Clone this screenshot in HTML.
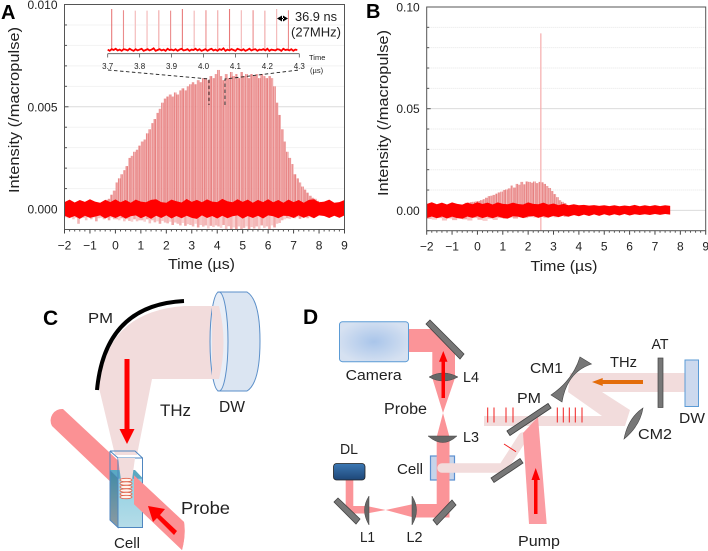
<!DOCTYPE html>
<html lang="en">
<head>
<meta charset="utf-8">
<title>THz intensity time traces and experimental schematics</title>
<style>
html,body{margin:0;padding:0;background:#fff}
svg{display:block}
text{font-family:"Liberation Sans","Noto Sans CJK JP",sans-serif;fill:#222}
</style>
</head>
<body>
<svg id="fig" xmlns="http://www.w3.org/2000/svg" width="708" height="551" viewBox="0 0 708 551">
<defs>
<radialGradient id="camGrad" cx="50%" cy="50%" r="55%"><stop offset="0" stop-color="#a9c5ea"/><stop offset="1" stop-color="#d6e1f1"/></radialGradient>
<linearGradient id="dlGrad" x1="0" y1="0" x2="0" y2="1"><stop offset="0" stop-color="#3c78b4"/><stop offset="1" stop-color="#1e4677"/></linearGradient>
<linearGradient id="cellFront" x1="0" y1="0" x2="0" y2="1"><stop offset="0" stop-color="#8fd0e2"/><stop offset="1" stop-color="#b5dce8"/></linearGradient>
<linearGradient id="cellSide" x1="0" y1="0" x2="0" y2="1"><stop offset="0" stop-color="#3f8ba8"/><stop offset="1" stop-color="#8d9aa0"/></linearGradient>
<clipPath id="probeFront"><rect x="134" y="440" width="80" height="111"/></clipPath>
</defs>

<g id="panelA"></g>
<g id="panelB"></g>

<text x="1" y="19" font-size="20" font-weight="bold" style="fill:#000">A</text>
<text x="366" y="18" font-size="20" font-weight="bold" style="fill:#000">B</text>

<!-- Panel C -->
<g>
<text x="43" y="325" font-size="21" font-weight="bold" style="fill:#000">C</text>
<text x="88" y="323" font-size="15" textLength="25" lengthAdjust="spacingAndGlyphs">PM</text>
<path d="M99 388 Q105 312 184 306 L220 306 Q227 342 220 379 L152 379 L137 455 L115 455 Z" fill="#f2dcdc"/>
<g>
<path d="M218 292 L247 292 Q260 300 260 341 Q260 383 247 391 L218 391 Z" fill="#dbe5f2" stroke="#5b8fc9" stroke-width="1"/>
<ellipse cx="219" cy="341.5" rx="9" ry="49.5" fill="#e8eef7" stroke="#5b8fc9" stroke-width="1"/>
</g>
<path d="M212 306 L219 306 Q228 342 219 379 L212 379 Z" fill="#f2dcdc"/>
<path d="M97 390 Q105 305 184 301" fill="none" stroke="#000" stroke-width="4"/>
<path d="M124.500 359 H129.500 V429 H134.500 L127 444 L119.500 429 H124.500 Z" fill="#f00"/>
<text x="160" y="416" font-size="16.500" textLength="31" lengthAdjust="spacingAndGlyphs">THz</text>
<text x="219" y="412" font-size="15.500" textLength="26" lengthAdjust="spacingAndGlyphs">DW</text>
<path d="M63 409 L184 522 Q186 535 182 550 L52 426 A11.500 11.500 0 0 1 63 409 Z" fill="#fb9194"/>
<g>
<path d="M110 470 L118 478 V527.500 L110 520 Z" fill="url(#cellSide)" stroke="#4f86c0" stroke-width="1"/>
<rect x="118" y="478" width="24.500" height="49.500" fill="url(#cellFront)" stroke="#4f86c0" stroke-width="1"/>
<path d="M110 470 H135 L142.500 478 H118 Z" fill="#5aa9c2"/>
<path d="M110 451 L118 458 H142.500 V478 M118 458 V478 M110 451 V470 M110 451 H135 L142.500 458" fill="none" stroke="#4f86c0" stroke-width="1"/>
</g>
<path d="M118 458 H135 L132 480 H121 Z" fill="#f2dcdc"/>
<g fill="#fff4ee" stroke="#e0604a" stroke-width="0.800">
<ellipse cx="126" cy="480" rx="6" ry="1.700"/><ellipse cx="126" cy="483.500" rx="6" ry="1.700"/><ellipse cx="126" cy="487" rx="6" ry="1.700"/><ellipse cx="126" cy="490.500" rx="6" ry="1.700"/><ellipse cx="126" cy="494" rx="6" ry="1.700"/><ellipse cx="126" cy="497" rx="6" ry="1.700"/>
</g>
<path d="M63 409 L184 522 Q186 535 182 550 L52 426 A11.500 11.500 0 0 1 63 409 Z" fill="#fb9194" clip-path="url(#probeFront)"/>
<path d="M174 535 L177 531 L160 515 L165 509 L148 506 L153 522 L157 518 Z" fill="#f00"/>
<text x="181" y="514" font-size="17.500" textLength="49" lengthAdjust="spacingAndGlyphs">Probe</text>
<text x="114" y="548" font-size="15" textLength="26" lengthAdjust="spacingAndGlyphs">Cell</text>
</g>

<!-- Panel D -->
<g>
<text x="303" y="324" font-size="21" font-weight="bold" style="fill:#000">D</text>
<rect x="430.500" y="456" width="24" height="24" fill="#c6d4ea" stroke="#5b8fd0" stroke-width="1.200"/>
<path fill="#fb9498" d="M409 329 H436 L455 352 V378 L443 413 L449.500 437 V504 L449.500 517.500 H413.500 L385.700 510 L366.700 513.500 H345.700 V479 H353.300 V506 H366.700 L385.700 510 L413.500 504 H436.700 V437 L443 413 L432.300 378 V352 H409 Z"/>
<path d="M442 468 H503 L523 437" fill="none" stroke="#f2dcdc" stroke-width="9.500" stroke-linecap="round" stroke-linejoin="miter"/>
<path fill="#f2dcdc" d="M484 416 H602 L568 392 L570 373 H685 V392 H602 L630 410 L625 426 H484 Z"/>
<rect x="339.500" y="321.700" width="69" height="40" rx="3" fill="url(#camGrad)" stroke="#5b9bd5" stroke-width="1"/>
<text x="345.700" y="380" font-size="15" textLength="56" lengthAdjust="spacingAndGlyphs">Camera</text>
<g stroke="#444" stroke-width="0.800" fill="#777">
<path d="M430 320 L464 354 L460 359 L426 324 Z"/>
<path d="M452 500 L456 505 L437 525 L433 520 Z"/>
<path d="M338 498 L360 519 L356 524 L334 502 Z"/>
<path d="M548 403.500 L551 408 L510 435.500 L507 431 Z"/>
<path d="M520 458.500 L523 463 L494 482.500 L491 478 Z"/>
</g>
<g fill="#666" stroke="#444" stroke-width="0.500">
<path d="M429 377 Q443 369 458 377 Q443 385 429 377 Z"/>
<path d="M428 436 H457 Q443 449 428 436 Z"/>
<path d="M369 496 V525 Q360 510 369 496 Z"/>
<path d="M412 496 V525 Q421 510 412 496 Z"/>
</g>
<path d="M441.500 398 V361.700 H439 L443.300 351 L447.500 361.700 H445 V398 Z" fill="#f00"/>
<rect x="333.500" y="463.500" width="31.500" height="16.500" rx="3" fill="url(#dlGrad)" stroke="#222" stroke-width="0.800"/>
<text x="340" y="454" font-size="15" textLength="18" lengthAdjust="spacingAndGlyphs">DL</text>
<text x="463" y="382" font-size="15" textLength="16" lengthAdjust="spacingAndGlyphs">L4</text>
<text x="463" y="442" font-size="15" textLength="16" lengthAdjust="spacingAndGlyphs">L3</text>
<text x="360" y="542" font-size="15" textLength="15" lengthAdjust="spacingAndGlyphs">L1</text>
<text x="406.500" y="542" font-size="15" textLength="16" lengthAdjust="spacingAndGlyphs">L2</text>
<text x="384" y="414" font-size="15.500" textLength="43" lengthAdjust="spacingAndGlyphs">Probe</text>
<text x="397" y="474" font-size="15" textLength="26" lengthAdjust="spacingAndGlyphs">Cell</text>
<path d="M523 433 L538 417 L546.700 524 H529 Z" fill="#fb9ca2"/>
<path d="M534 514 V480 H531.500 L535.700 468 L540 480 H537.500 V514 Z" fill="#f00"/>
<path d="M548 403.500 L551 408 L510 435.500 L507 431 Z" fill="#777" stroke="#444" stroke-width="0.800"/>
<g stroke="#f02020" stroke-width="1">
<path d="M487.700 407.500 V422.500 M494 407.500 V422.500 M506 407.500 V422.500 M513 407.500 V422.500 M557.300 407.500 V422.500 M563.300 407.500 V422.500 M569.300 407.500 V422.500 M575.300 407.500 V422.500 M582 407.500 V422.500 M504 444 L516 451.700"/>
</g>
<path d="M580 357 L591.500 364 Q567 372 562 402 L551 395 Q573 380 580 357 Z" fill="#777" stroke="#444" stroke-width="0.600"/>
<path d="M624 439 Q628 418 643 408 Q640 426 624 439 Z" fill="#777" stroke="#444" stroke-width="0.600"/>
<rect x="658" y="358" width="5" height="49.500" fill="#777" stroke="#444" stroke-width="0.700"/>
<rect x="685" y="360" width="13.500" height="46.500" fill="#ccd9ee" stroke="#5b9bd5" stroke-width="1"/>
<path d="M643 380 V384 H602.700 V386 L592 382 L602.700 378 V380 Z" fill="#e36c0a"/>
<text x="651.500" y="349" font-size="15" textLength="17" lengthAdjust="spacingAndGlyphs">AT</text>
<text x="610" y="367" font-size="15" textLength="27" lengthAdjust="spacingAndGlyphs">THz</text>
<text x="530" y="373" font-size="15" textLength="33" lengthAdjust="spacingAndGlyphs">CM1</text>
<text x="638" y="439" font-size="15" textLength="34" lengthAdjust="spacingAndGlyphs">CM2</text>
<text x="517" y="403" font-size="15" textLength="24" lengthAdjust="spacingAndGlyphs">PM</text>
<text x="679" y="423" font-size="15" textLength="26" lengthAdjust="spacingAndGlyphs">DW</text>
<text x="518" y="546" font-size="15" textLength="42" lengthAdjust="spacingAndGlyphs">Pump</text>
</g>
</svg>

<script>
/* ---------- Chart data ---------- */
const xTickLabels = [-2,-1,0,1,2,3,4,5,6,7,8,9];

/* Panel A: intensity in units of 0.001 /macropulse */
const yTicksA = [0, 0.005, 0.010];
const yTickLabelsA = ["0.000","0.005","0.010"];
const envelopeStartA = -0.4;
const envelopeStepA = 0.1;
const envelopeA = [0.45,0.5,0.7,0.9,
 1.3,1.5,1.7,1.9,2.1,2.5,2.6,2.8,2.9,3.1,
 3.3,3.4,3.7,3.9,4.2,4.4,4.7,4.9,5.2,5.4,
 5.5,5.6,5.5,5.7,5.6,5.8,5.9,5.8,6.0,6.1,
 6.2,6.1,6.3,6.2,6.4,6.4,6.3,6.5,6.4,6.6,
 6.8,6.5,6.3,6.6,6.4,6.7,6.5,6.6,6.4,6.7,
 6.5,6.6,6.4,6.6,6.5,6.6,6.4,6.6,6.5,6.4,
 6.5,6.4,6.0,5.2,4.6,3.9,3.3,2.8,2.5,2.2,
 1.7,1.5,1.3,1.1,0.95,0.8,0.65,0.55,0.5,0.4,0.35];
const negStartA = -2;
const negStepA = 0.1;
const negEnvelopeA = [0.4,0.45,0.4,0.5,0.42,0.72,0.45,0.42,0.55,0.4,
 0.5,0.42,0.6,0.45,0.42,0.5,0.45,0.55,0.42,0.5,
 0.5,0.55,0.45,0.6,0.5,0.58,0.62,0.5,0.6,0.55,
 0.55,0.62,0.5,0.7,0.55,0.65,0.6,0.72,0.58,0.66,
 0.7,0.62,0.78,0.66,0.72,0.8,0.68,0.82,0.74,0.78,
 0.85,0.72,0.9,0.78,0.86,0.8,0.95,0.82,0.88,0.8,
 0.85,0.92,0.78,1.0,0.84,1.0,0.9,1.02,0.85,0.98,
 0.92,0.85,1.0,0.88,0.95,0.85,0.98,0.8,0.92,0.85,
 1.02,0.8,0.9,0.72,0.68,0.55,0.5,0.45,0.48,0.42,
 0.45,0.4,0.48,0.42,0.4,0.45,0.4,0.42];
const noiseStartA = -2;
const noiseStepA = 0.2;
const noiseUpperA = [0.34,0.46,0.32,0.44,0.35,0.48,0.36,0.31,0.45,0.34,0.47,0.33,0.44,0.31,0.46,0.36,0.33,0.45,0.48,0.34,0.31,0.46,0.38,0.32,0.49,0.35,0.45,0.33,0.47,0.36,0.34,0.5,0.38,0.33,0.48,0.35,0.46,0.31,0.45,0.34,0.48,0.33,0.44,0.31,0.46,0.34,0.44,0.31,0.45,0.48,0.33,0.36,0.46,0.31,0.34,0.44];
const noiseLowerA = [0.32,0.44,0.34,0.48,0.33,0.43,0.37,0.31,0.46,0.34,0.44,0.33,0.47,0.35,0.31,0.45,0.34,0.48,0.33,0.44,0.31,0.46,0.34,0.45,0.33,0.43,0.48,0.31,0.44,0.34,0.46,0.33,0.45,0.35,0.31,0.47,0.34,0.44,0.33,0.46,0.31,0.35,0.45,0.33,0.34,0.44,0.31,0.43,0.33,0.45,0.31,0.34,0.44,0.33,0.43,0.31];

/* Panel A inset */
const insetTickLabels = [3.7,3.8,3.9,4.0,4.1,4.2,4.3];
const insetPulseTimes = [3.7125,3.7494,3.7863,3.8232,3.8601,3.897,3.9339,3.9708,4.0077,4.0446,4.0815,4.1184,4.1553,4.1922,4.2291,4.266];
const insetPulseHeights = [1,0.97,0.96,0.96,0.97,0.96,1,0.96,0.97,0.97,1,0.97,0.97,0.96,1,0.97];
const insetPulseTones = ["#e87a7a","#eb8c8c","#f3b5b5","#f3b5b5","#f0a6a6","#eb8c8c","#e87a7a","#f3b5b5","#eb8c8c","#f0a6a6","#e87a7a","#f3b5b5","#eb8c8c","#f0a6a6","#f3b5b5","#eb8c8c"];
const insetTraceStart = 3.7;
const insetTraceStep = 0.00625;
const insetTrace = [0.01,-0.02,0.02,0,0.03,-0.01,0.01,-0.02,0.02,0.01,-0.01,0.03,0,-0.02,0.02,-0.01,0.01,0.03,-0.02,0,0.02,-0.01,0.01,0.04,-0.02,0,0.02,-0.01,0.01,-0.02,0.03,0,0.01,-0.01,0.02,-0.02,0.01,0.03,-0.01,0,0.02,-0.02,0.01,0,0.03,-0.01,0.02,-0.02,
 0,0.02,-0.02,0.01,0.03,-0.01,0.01,-0.02,0.02,0,0.04,-0.02,0.01,-0.01,0.02,0,-0.02,0.03,0.01,-0.01,0.02,-0.02,0,0.03,-0.01,0.01,0.02,-0.02,0.01,0,0.02,-0.01,0.03,-0.02,0.01,0,-0.01,0.02,0.01,-0.02,0.03,0,0.01,-0.01,0.02,-0.02,0.01,0];

/* Panel B: intensity in units of 0.01 /macropulse */
const yTicksB = [0, 0.05, 0.10];
const yTickLabelsB = ["0.00","0.05","0.10"];
const envelopeStartB = -0.5;
const envelopeStepB = 0.1;
const envelopeB = [0.37,0.38,0.4,0.42,0.44,
 0.46,0.5,0.55,0.62,0.7,0.72,0.76,0.82,0.88,0.92,
 1.0,1.03,1.08,1.22,1.12,1.3,1.26,1.4,1.28,1.42,
 1.4,1.36,1.42,1.34,1.4,1.38,1.3,1.2,1.1,0.95,
 0.8,0.65,0.5,0.42,0.36];
const negStartB = -2;
const negStepB = 0.2;
const negEnvelopeB = [0.42,0.46,0.38,0.5,0.4,0.48,0.36,0.44,0.5,0.38,0.46,0.52,0.4,0.47,0.38,0.42,0.36,0.4,0.34,0.38,0.33,0.36,0.32,0.38,0.3,0.34,0.28,0.32,0.26];
const spikeTimeB = 2.5;
const spikeValueB = 0.087;
const noiseStartB = -2;
const noiseStepB = 0.2;
const noiseUpperB = [0.31,0.4,0.3,0.38,0.29,0.39,0.32,0.28,0.38,0.3,0.4,0.31,0.38,0.29,0.39,0.32,0.3,0.38,0.31,0.29,0.39,0.32,0.3,0.38,0.28,0.34,0.26,0.32,0.25,0.3,0.25,0.27,0.23,0.26,0.22,0.25,0.21,0.25,0.2,0.24,0.21,0.27,0.2,0.25,0.21,0.26,0.21,0.25,0.22];
const noiseLowerB = [0.38,0.3,0.39,0.3,0.4,0.31,0.38,0.41,0.3,0.37,0.29,0.38,0.31,0.39,0.3,0.37,0.4,0.29,0.31,0.38,0.3,0.28,0.37,0.29,0.36,0.27,0.33,0.25,0.31,0.23,0.29,0.21,0.28,0.2,0.27,0.19,0.26,0.19,0.25,0.18,0.25,0.19,0.23,0.19,0.23,0.18,0.22,0.18,0.21];

/* Shade cycles that give the pulse-train moire look */
const toneCycle = ["#e57878","#f2b2b2","#e88888","#efa4a4","#e26a6a","#f4bebe","#ea9090","#e67c7c","#f0aaaa","#e98686","#f3b8b8"];
const negToneCycle = ["#f3b5b5","#f8d0d0","#f0a6a6","#f6c4c4","#f4baba"];
const pulsesPerBin = 3;

/* ---------- Drawing ---------- */
const NS = "http://www.w3.org/2000/svg";
function el(parent, tag, attrs, txt){
  const n = document.createElementNS(NS, tag);
  for (const k in attrs) n.setAttribute(k, attrs[k]);
  if (txt !== undefined) n.textContent = txt;
  parent.appendChild(n);
  return n;
}
function fmt(v){ return String(v).replace("-", "\u2212"); }

function drawPanel(root, cfg){
  const sx = t => cfg.left + (t - cfg.xMin) / (cfg.xMax - cfg.xMin) * (cfg.right - cfg.left);
  const sy = v => cfg.bottom - (v - cfg.yMin) / (cfg.yMax - cfg.yMin) * (cfg.bottom - cfg.top);

  // grid
  const minorCount = Math.round((cfg.yMax - cfg.yMin) / cfg.yMinor);
  for (let i = 0; i <= minorCount; i++){
    const v = cfg.yMin + i * cfg.yMinor;
    const major = Math.abs(v / (cfg.yTicks[1]) - Math.round(v / (cfg.yTicks[1]))) < 1e-6;
    const g = el(root, "line", {x1:cfg.left, x2:cfg.right, y1:sy(v), y2:sy(v), stroke: major ? "#dcdcdc" : "#e6e6e6", "stroke-width":1, "stroke-dasharray": major ? "none" : "1 1"});
    
    
    const t = el(root, "line", {x1:cfg.left, x2:cfg.left + (major ? 4 : 2.5), y1:sy(v), y2:sy(v), stroke:"#555", "stroke-width":1});
    
    
  }

  // negative excursion of the pulses
  cfg.neg.forEach((v, i) => {
    const t = cfg.negStart + i * cfg.negStep;
    const x0 = sx(t), x1 = sx(t + cfg.negStep);
    const n = el(root, "rect", {x:x0, y:sy(0), width:x1 - x0 + 0.05, height:sy(-v * cfg.unit) - sy(0), fill:negToneCycle[i % negToneCycle.length]});
    
    
  });

  // pulse train
  cfg.env.forEach((v, i) => {
    const t = cfg.envStart + i * cfg.envStep;
    const x0 = sx(t), w = (sx(t + cfg.envStep) - x0) / pulsesPerBin;
    for (let k = 0; k < pulsesPerBin; k++){
      const b = el(root, "rect", {x:x0 + k * w, y:sy(v * cfg.unit), width:w + 0.05, height:sy(0) - sy(v * cfg.unit), fill:toneCycle[(i * pulsesPerBin + k) % toneCycle.length]});
      
      
    }
  });

  // spike
  if (cfg.spikeTime !== undefined){
    const s = el(root, "line", {x1:sx(cfg.spikeTime), x2:sx(cfg.spikeTime), y1:sy(cfg.spikeValue), y2:sy(cfg.yMin), stroke:"#f5acac", "stroke-width":1.2});
    
    
  }

  // noise band
  const up = cfg.noiseUp.map((v, i) => sx(cfg.noiseStart + i * cfg.noiseStep) + "," + sy(v * cfg.unit));
  const lo = cfg.noiseLo.map((v, i) => sx(cfg.noiseStart + i * cfg.noiseStep) + "," + sy(-v * cfg.unit)).reverse();
  const band = el(root, "polygon", {points: up.concat(lo).join(" "), fill:"#f00"});
  
  

  // axes box
  const box = el(root, "rect", {x:cfg.left, y:cfg.top, width:cfg.right - cfg.left, height:cfg.bottom - cfg.top, fill:"none", stroke:"#555", "stroke-width":1});
  
  

  // x ticks
  cfg.xLabels.forEach(tv => {
    const tk = el(root, "line", {x1:sx(tv), x2:sx(tv), y1:cfg.bottom, y2:cfg.bottom + 4, stroke:"#444", "stroke-width":1});
    
    
    const lb = el(root, "text", {x:sx(tv), y:cfg.bottom + 20, "font-size":12, "text-anchor":"middle"}, fmt(tv));
    
    
    if (tv < cfg.xMax){
      for (let q = 1; q < 5; q++){
        const m = el(root, "line", {x1:sx(tv + q * 0.2), x2:sx(tv + q * 0.2), y1:cfg.bottom, y2:cfg.bottom + 2, stroke:"#555", "stroke-width":1});
        
        
      }
    }
  });

  // y labels
  cfg.yTicks.forEach((v, i) => {
    const lb = el(root, "text", {x:cfg.left - 7, y:sy(v) + 4.5, "font-size":12, "text-anchor":"end"}, cfg.yLabels[i]);
    
    
  });

  // titles
  const xt = el(root, "text", {x:cfg.xTitleX, y:cfg.xTitleY, "font-size":14.5, "text-anchor":"middle", textLength:67, lengthAdjust:"spacingAndGlyphs"}, "Time (\u00b5s)");
  
  
  const yt = el(root, "text", {transform:"translate(" + cfg.yTitleX + "," + cfg.yTitleY + ") rotate(-90)", "font-size":14.5, "text-anchor":"middle", textLength:166, lengthAdjust:"spacingAndGlyphs"}, "Intensity (/macropulse)");
  
  
}

drawPanel(document.getElementById("panelA"), {
  left:64.5, right:344.5, top:4.5, bottom:229.5, xMin:-2, xMax:9, yMin:-0.001, yMax:0.010, yMinor:0.001,
  unit:0.001, yTicks:yTicksA, yLabels:yTickLabelsA, xLabels:xTickLabels,
  env:envelopeA, envStart:envelopeStartA, envStep:envelopeStepA,
  neg:negEnvelopeA, negStart:negStartA, negStep:negStepA,
  noiseUp:noiseUpperA, noiseLo:noiseLowerA, noiseStart:noiseStartA, noiseStep:noiseStepA,
  xTitleX:201.5, xTitleY:269, yTitleX:19, yTitleY:110
});

drawPanel(document.getElementById("panelB"), {
  left:426.7, right:705.7, top:7, bottom:230.7, xMin:-2, xMax:9, yMin:-0.01, yMax:0.10, yMinor:0.01,
  unit:0.01, yTicks:yTicksB, yLabels:yTickLabelsB, xLabels:xTickLabels,
  env:envelopeB, envStart:envelopeStartB, envStep:envelopeStepB,
  neg:negEnvelopeB, negStart:negStartB, negStep:negStepB,
  noiseUp:noiseUpperB, noiseLo:noiseLowerB, noiseStart:noiseStartB, noiseStep:noiseStepB,
  spikeTime:spikeTimeB, spikeValue:spikeValueB,
  xTitleX:564, xTitleY:271, yTitleX:388, yTitleY:113
});

/* Inset of panel A */
(function(){
  const root = el(document.getElementById("panelA"), "g", {});
  
  
  const ix = t => 107.7 + (t - 3.7) / 0.6 * 191.6;
  const iy = v => 50 - v * 41;

  insetPulseTimes.forEach((t, i) => {
    const p = el(root, "line", {x1:ix(t), x2:ix(t), y1:iy(insetPulseHeights[i]), y2:iy(0), stroke:insetPulseTones[i], "stroke-width":1.1});
    
    
  });
  const pts = insetTrace.map((v, i) => ix(insetTraceStart + i * insetTraceStep) + "," + iy(v)).join(" ");
  const tr = el(root, "polyline", {points:pts, fill:"none", stroke:"#f00", "stroke-width":1.8});
  
  

  const ax = el(root, "line", {x1:ix(3.7), x2:ix(4.3), y1:53.7, y2:53.7, stroke:"#555", "stroke-width":0.8});
  
  
  insetTickLabels.forEach((tv, i) => {
    const tk = el(root, "line", {x1:ix(tv), x2:ix(tv), y1:53.7, y2:57.5, stroke:"#555", "stroke-width":0.8});
    
    
    const lb = el(root, "text", {x:ix(tv), y:69, "font-size":8, "text-anchor":"middle"}, tv.toFixed(1));
    
    
  });

  const z = el(root, "path", {d:"M108 70 L209 79 V105 M225 105 V79 L299 70", fill:"none", stroke:"#222", "stroke-width":0.9, "stroke-dasharray":"3.5 2.5"});
  
  

  const t1 = el(root, "text", {x:309, y:60, "font-size":7.5}, "Time");
  
  
  const t2 = el(root, "text", {x:310, y:73, "font-size":7.5}, "(\u00b5s)");
  
  
  const a1 = el(root, "text", {x:295, y:21, "font-size":12.7, textLength:42, lengthAdjust:"spacingAndGlyphs"}, "36.9 ns");
  
  
  const a2 = el(root, "text", {x:291, y:36.7, "font-size":12.7, textLength:50, lengthAdjust:"spacingAndGlyphs"}, "(27MHz)");
  
  
  const ar = el(root, "path", {d:"M277 18.500 L282 15.500 V21.500 Z M288 18.500 L283 15.500 V21.500 Z M281 18 H284 V19 H281 Z", fill:"#000"});
  
  
})();
</script>
</body>
</html>
